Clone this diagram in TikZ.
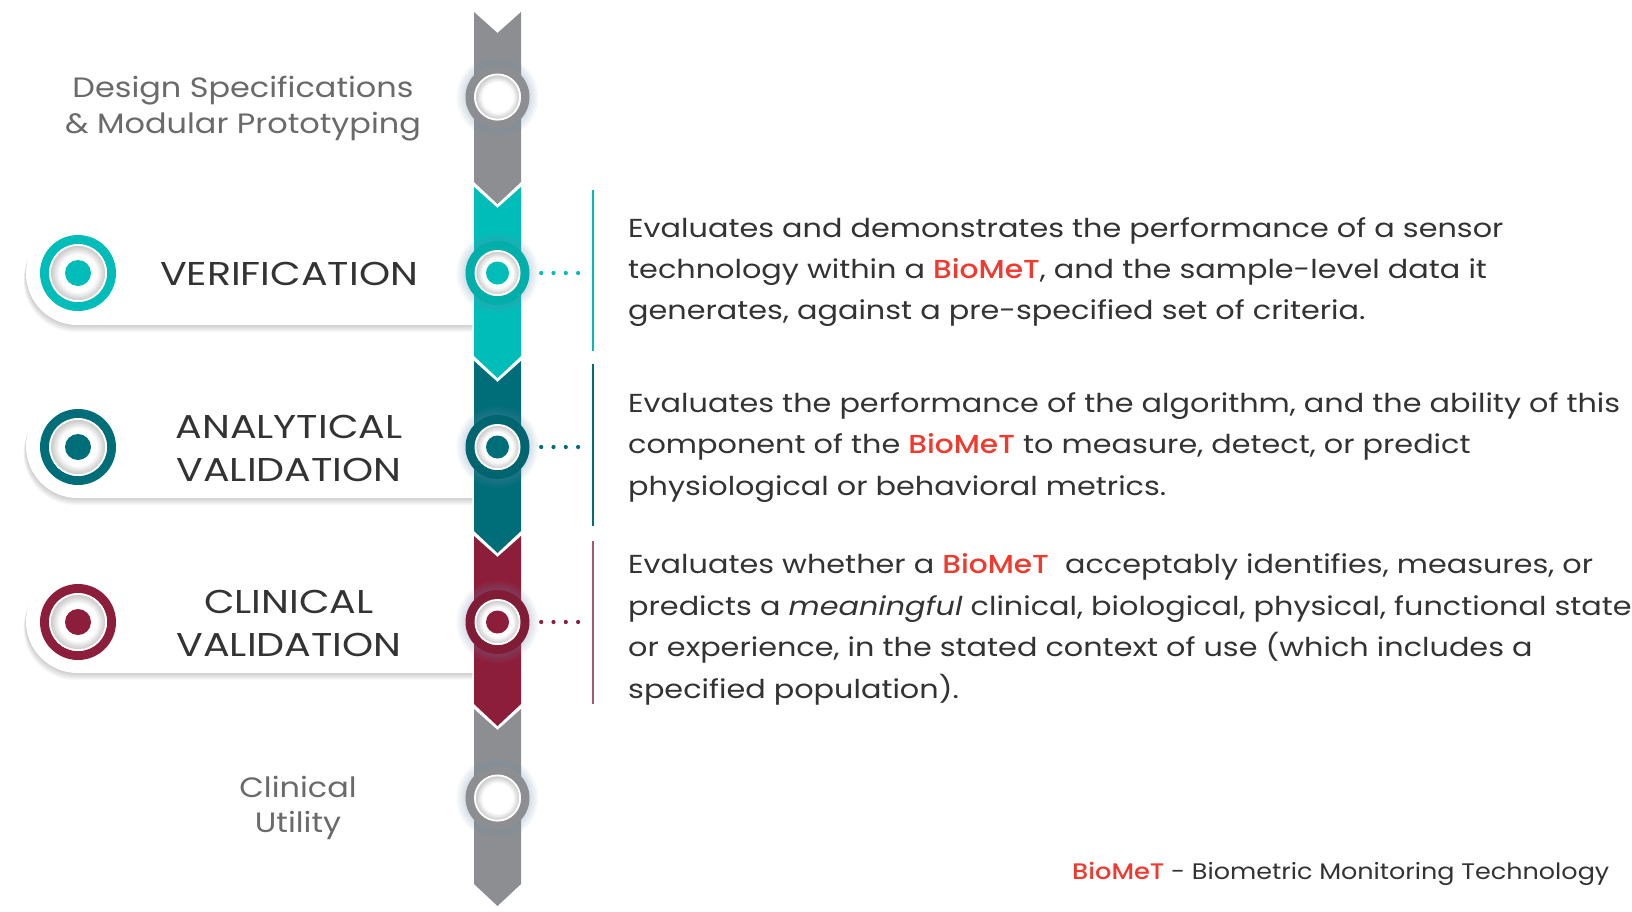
\documentclass[tikz,border=0pt]{standalone}
\usepackage{fontspec}
\setmainfont{Poppins}
\newfontfamily\descfont{Poppins}[FakeStretch=1.165]
\newfontfamily\footfont{Poppins}[FakeStretch=1.13]
\newfontfamily\medfont{Poppins Medium}[FakeStretch=1.14]
\newfontfamily\lblfont{Poppins}[FakeStretch=1.2]
\newfontfamily\sidefont{Poppins}[FakeStretch=1.14]
\usetikzlibrary{calc}
\definecolor{cteal}{HTML}{00BDB9}
\definecolor{cdteal}{HTML}{006E78}
\definecolor{ccrim}{HTML}{8C1E3B}
\definecolor{cgray}{HTML}{8D8E92}
\definecolor{bred}{HTML}{F03A2E}
\definecolor{txt}{HTML}{333333}
\definecolor{ltxt}{HTML}{6A6A6A}
\definecolor{glowc}{HTML}{6F8FB0}
\newcommand\bmt{{\medfont\color{bred}BioMeT}}
\pgfdeclareradialshading{discshade}{\pgfpoint{0bp}{0bp}}{color(0bp)=(white); color(16bp)=(white); color(23bp)=(black!20); color(25bp)=(black!20)}
\newcommand\pillpath[2]{(474,#1) -- ({26+(#2-#1)/2},#1) arc[start angle=270, end angle=90, radius={(#2-#1)/2}] -- (474,#2) -- cycle}
\newcommand\spineseg[3]{\fill[#1] (474,#2) -- (497.5,#2+21) -- (521,#2) -- (521,#3) -- (497.5,#3+22) -- (474,#3) -- cycle;}
\newcommand\whitedisc[2]{%
  \shade[shading=discshade] (#1) circle (#2);
  \draw[white, line width=1.8pt] (#1) circle ({#2-0.9});}
\newcommand\glow[1]{%
  \foreach \r in {41,39,37,35,33.5} {\fill[glowc, opacity=0.06] (#1) circle (\r);}}
\begin{document}
\begin{tikzpicture}[x=1pt,y=-1pt,
  desc/.style={anchor=base west, inner sep=0, text=txt, font=\descfont\fontsize{26}{31}\selectfont},
  lbl/.style={anchor=base, inner sep=0, text=txt, font=\lblfont\fontsize{33}{40}\selectfont},
  side/.style={anchor=base, inner sep=0, text=ltxt, font=\sidefont\fontsize{28}{34}\selectfont},
  spinec/.style={circle, inner sep=0, minimum size=64pt, fill=#1},
  leftc/.style={circle, inner sep=0, minimum size=76pt, fill=#1},
  dotline/.style={#1, line width=4.2pt, line cap=round, dash pattern=on 0pt off 12.3pt},
  vline/.style={#1, line width=2.6pt}]
\useasboundingbox (0,0) rectangle (1632,911);
\fill[white] (0,0) rectangle (1632,911);

% pills with soft shadows
\foreach \t/\b in {222/325, 395/498, 570/673} {
  \foreach \k in {1,...,8} {
    \fill[black, opacity=0.022, shift={(-0.3*\k,0.9*\k)}] \pillpath{\t}{\b};
  }
  \fill[white] \pillpath{\t}{\b};
}

% left circles
\node[leftc=cteal] (L1) at (78,273) {};
\node[leftc=cdteal] (L2) at (78,447) {};
\node[leftc=ccrim] (L3) at (78,622) {};
\whitedisc{L1.center}{29}
\whitedisc{L2.center}{29}
\whitedisc{L3.center}{29}
\fill[cteal] (L1.center) circle (13);
\fill[cdteal] (L2.center) circle (13);
\fill[ccrim] (L3.center) circle (13);

% labels
\node[lbl] (verif) at (289,285.5) {VERIFICATION};
\node[lbl] (ana1) at (289,438) {ANALYTICAL};
\node[lbl] (ana2) at (289,481) {VALIDATION};
\node[lbl] (cli1) at (289,613) {CLINICAL};
\node[lbl] (cli2) at (289,656) {VALIDATION};
\node[side] (ds1) at (243,97) {Design Specifications};
\node[side] (ds2) at (243,133) {\& Modular Prototyping};
\node[side] (cu1) at (298,797) {Clinical};
\node[side] (cu2) at (298,832) {Utility};

% spine
\spineseg{cgray}{12}{182}
\spineseg{cteal}{187}{356}
\spineseg{cdteal}{361}{531}
\spineseg{ccrim}{536}{704}
\spineseg{cgray}{709}{884}

% spine circles
\glow{497.5,97}
\glow{497.5,273}
\glow{497.5,447}
\glow{497.5,622}
\glow{497.5,798}
\node[spinec=cgray] (c1) at (497.5,97) {};
\node[spinec=cteal!92!black] (c2) at (497.5,273) {};
\node[spinec=cdteal!92!black] (c3) at (497.5,447) {};
\node[spinec=ccrim!92!black] (c4) at (497.5,622) {};
\node[spinec=cgray] (c5) at (497.5,798) {};
\whitedisc{c1.center}{23.5}
\whitedisc{c2.center}{23}
\whitedisc{c3.center}{23}
\whitedisc{c4.center}{23}
\whitedisc{c5.center}{23.5}
\fill[cteal] (c2.center) circle (11.5);
\fill[cdteal] (c3.center) circle (11.5);
\fill[ccrim] (c4.center) circle (11.5);

% vertical lines
\coordinate (v1t) at (593,190); \coordinate (v1b) at (593,351);
\coordinate (v2t) at (593,364); \coordinate (v2b) at (593,526);
\coordinate (v3t) at (593,541); \coordinate (v3b) at (593,704);
\draw[vline=cteal] (v1t) -- (v1b);
\draw[vline=cdteal] (v2t) -- (v2b);
\draw[vline=ccrim!75] (v3t) -- (v3b);

% dotted connectors
\coordinate (e1) at (582,273);
\coordinate (e2) at (582,447);
\coordinate (e3) at (582,622);
\draw[dotline=cteal] ([xshift=11.5pt]c2.east) -- (e1);
\draw[dotline=cdteal] ([xshift=11.5pt]c3.east) -- (e2);
\draw[dotline=ccrim] ([xshift=11.5pt]c4.east) -- (e3);

% descriptions
\node[desc] (a1) at (628,237) {Evaluates and demonstrates the performance of a sensor};
\node[desc] (a2) at (628,278) {technology within a \bmt, and the sample-level data it};
\node[desc] (a3) at (628,319) {generates, against a pre-specified set of criteria.};
\node[desc] (b1) at (628,412) {Evaluates the performance of the algorithm, and the ability of this};
\node[desc] (b2) at (628,453) {component of the \bmt\ to measure, detect, or predict};
\node[desc] (b3) at (628,495) {physiological or behavioral metrics.};
\node[desc] (d1) at (628,573) {Evaluates whether a \bmt\ \ acceptably identifies, measures, or};
\node[desc] (d2) at (628,615) {predicts a \textit{meaningful} clinical, biological, physical, functional state};
\node[desc] (d3) at (628,656) {or experience, in the stated context of use (which includes a};
\node[desc] (d4) at (628,698) {specified population).};

% footer
\node[anchor=base west, inner sep=0, text=txt, font=\footfont\fontsize{22.5}{28}\selectfont] (foot) at (1072,879) {{\medfont\fontsize{22.5}{28}\selectfont\color{bred}BioMeT} - Biometric Monitoring Technology};
\end{tikzpicture}
\end{document}
